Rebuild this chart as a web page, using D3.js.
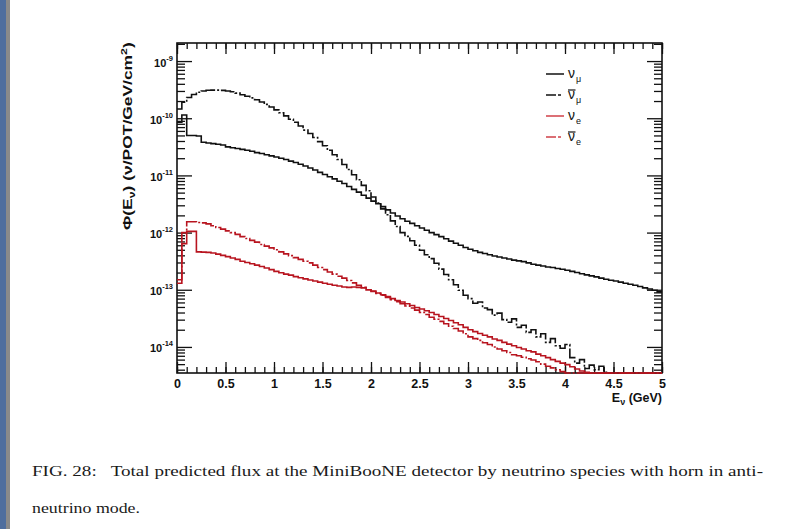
<!DOCTYPE html>
<html>
<head>
<meta charset="utf-8">
<script src="https://cdn.jsdelivr.net/npm/d3@7/dist/d3.min.js"></script>
<style>
  body { margin: 0; background: #fff; }
  svg { display: block; }
</style>
</head>
<body>
<svg id="chart" width="788" height="529"></svg>
<script>
// Flux histograms, 100 bins of 0.05 GeV from 0 to 5 GeV (nu / POT / GeV / cm^2)
const binWidth = 0.05;

const nuMuFlux = [
  8.5e-11, 1.14e-10, 5.0e-11, 5.0e-11, 4.9e-11, 3.8e-11, 3.7e-11, 3.6e-11, 3.5e-11, 3.4e-11,
  3.15e-11, 3.05e-11, 2.95e-11, 2.85e-11, 2.75e-11, 2.65e-11, 2.5e-11, 2.42e-11, 2.3e-11, 2.2e-11,
  2.1e-11, 2.0e-11, 1.9e-11, 1.78e-11, 1.68e-11, 1.57e-11, 1.46e-11, 1.35e-11, 1.24e-11, 1.13e-11,
  1.04e-11, 9.5e-12, 8.7e-12, 7.9e-12, 7.2e-12, 6.4e-12, 5.7e-12, 5.1e-12, 4.5e-12, 4.0e-12,
  3.55e-12, 3.2e-12, 2.85e-12, 2.5e-12, 2.2e-12, 1.95e-12, 1.75e-12, 1.58e-12, 1.45e-12, 1.32e-12,
  1.2e-12, 1.1e-12, 1.0e-12, 9.2e-13, 8.5e-13, 7.8e-13, 7.1e-13, 6.5e-13, 6.0e-13, 5.5e-13,
  5.1e-13, 4.8e-13, 4.5e-13, 4.3e-13, 4.1e-13, 3.9e-13, 3.75e-13, 3.6e-13, 3.45e-13, 3.3e-13,
  3.2e-13, 3.1e-13, 2.95e-13, 2.8e-13, 2.7e-13, 2.6e-13, 2.5e-13, 2.45e-13, 2.35e-13, 2.28e-13,
  2.2e-13, 2.1e-13, 2.0e-13, 1.9e-13, 1.82e-13, 1.75e-13, 1.68e-13, 1.6e-13, 1.53e-13, 1.47e-13,
  1.42e-13, 1.36e-13, 1.3e-13, 1.25e-13, 1.2e-13, 1.14e-13, 1.08e-13, 1.03e-13, 9.8e-14, 9.2e-14
];

const nuMuBarFlux = [
  1.45e-10, 1.9e-10, 2.3e-10, 2.6e-10, 2.85e-10, 3.0e-10, 3.08e-10, 3.1e-10, 3.1e-10, 3.07e-10,
  3.0e-10, 2.9e-10, 2.75e-10, 2.58e-10, 2.42e-10, 2.27e-10, 2.1e-10, 1.92e-10, 1.75e-10, 1.57e-10,
  1.4e-10, 1.25e-10, 1.1e-10, 9.6e-11, 8.5e-11, 7.3e-11, 6.2e-11, 5.4e-11, 4.6e-11, 3.9e-11,
  3.3e-11, 2.75e-11, 2.3e-11, 1.9e-11, 1.55e-11, 1.27e-11, 1.03e-11, 8.4e-12, 6.7e-12, 5.4e-12,
  4.2e-12, 3.3e-12, 2.6e-12, 2.05e-12, 1.6e-12, 1.28e-12, 1.0e-12, 8.6e-13, 7.2e-13, 6.0e-13,
  4.9e-13, 4.1e-13, 3.5e-13, 2.9e-13, 2.3e-13, 1.85e-13, 1.5e-13, 1.22e-13, 9.8e-14, 8.0e-14,
  7.0e-14, 5.8e-14, 6.1e-14, 4.8e-14, 4.5e-14, 3.6e-14, 3.9e-14, 3.0e-14, 2.7e-14, 3.1e-14,
  2.2e-14, 2.4e-14, 1.8e-14, 2.0e-14, 1.5e-14, 1.7e-14, 1.2e-14, 1.4e-14, 1.05e-14, 9.5e-15,
  1.1e-14, 6.5e-15, 5.2e-15, 6.0e-15, 4.2e-15, 4.8e-15, 4.0e-15, 4.6e-15, 3.6e-15, 0,
  0, 0, 0, 0, 0, 0, 0, 0, 0, 0
];

const nuEFlux = [
  1.3e-13, 6.4e-13, 1.05e-12, 1.05e-12, 4.6e-13, 4.55e-13, 4.5e-13, 4.4e-13, 4.2e-13, 4.0e-13,
  3.8e-13, 3.6e-13, 3.4e-13, 3.15e-13, 3.0e-13, 2.85e-13, 2.7e-13, 2.55e-13, 2.4e-13, 2.25e-13,
  2.1e-13, 1.98e-13, 1.88e-13, 1.8e-13, 1.7e-13, 1.62e-13, 1.55e-13, 1.48e-13, 1.42e-13, 1.36e-13,
  1.3e-13, 1.25e-13, 1.2e-13, 1.16e-13, 1.12e-13, 1.1e-13, 1.12e-13, 1.1e-13, 1.08e-13, 1.0e-13,
  9.5e-14, 8.8e-14, 8.2e-14, 7.6e-14, 7.0e-14, 6.5e-14, 6.1e-14, 5.7e-14, 5.3e-14, 4.9e-14,
  4.6e-14, 4.3e-14, 4.0e-14, 3.7e-14, 3.4e-14, 3.15e-14, 2.9e-14, 2.65e-14, 2.45e-14, 2.2e-14,
  2.0e-14, 1.85e-14, 1.72e-14, 1.6e-14, 1.5e-14, 1.38e-14, 1.3e-14, 1.2e-14, 1.12e-14, 1.05e-14,
  9.8e-15, 9.2e-15, 8.6e-15, 8.2e-15, 7.5e-15, 7.0e-15, 6.5e-15, 6.0e-15, 5.6e-15, 5.2e-15,
  4.9e-15, 4.5e-15, 4.1e-15, 3.8e-15, 3.6e-15, 0, 0, 0, 0, 0,
  0, 0, 0, 0, 0, 0, 0, 0, 0, 0
];

const nuEBarFlux = [
  1.5e-13, 1.0e-12, 1.55e-12, 1.55e-12, 1.5e-12, 1.48e-12, 1.42e-12, 1.32e-12, 1.23e-12, 1.15e-12,
  1.07e-12, 1.0e-12, 9.3e-13, 8.5e-13, 7.9e-13, 7.3e-13, 6.8e-13, 6.2e-13, 5.8e-13, 5.4e-13,
  5.0e-13, 4.6e-13, 4.25e-13, 3.95e-13, 3.65e-13, 3.4e-13, 3.15e-13, 2.95e-13, 2.7e-13, 2.45e-13,
  2.25e-13, 2.05e-13, 1.88e-13, 1.72e-13, 1.6e-13, 1.45e-13, 1.32e-13, 1.2e-13, 1.1e-13, 1.0e-13,
  9.3e-14, 8.6e-14, 8.0e-14, 7.3e-14, 6.7e-14, 6.2e-14, 5.7e-14, 5.2e-14, 4.8e-14, 4.4e-14,
  4.0e-14, 3.7e-14, 3.3e-14, 3.05e-14, 2.8e-14, 2.55e-14, 2.3e-14, 2.1e-14, 1.9e-14, 1.7e-14,
  1.5e-14, 1.4e-14, 1.3e-14, 1.18e-14, 1.1e-14, 1.0e-14, 9.2e-15, 8.6e-15, 8.0e-15, 7.3e-15,
  7.0e-15, 6.6e-15, 6.2e-15, 5.9e-15, 5.5e-15, 5.0e-15, 4.6e-15, 4.3e-15, 4.0e-15, 3.7e-15,
  0, 0, 0, 0, 0, 0, 0, 0, 0, 0,
  0, 0, 0, 0, 0, 0, 0, 0, 0, 0
];

const seriesNames = ["ν_μ", "ν̄_μ", "ν_e", "ν̄_e"];
const xMajorTicks = [0, 0.5, 1, 1.5, 2, 2.5, 3, 3.5, 4, 4.5, 5];
const xTickLabels = ["0", "0.5", "1", "1.5", "2", "2.5", "3", "3.5", "4", "4.5", "5"];
const yDecadeExponents = [-9, -10, -11, -12, -13, -14];
const captionLines = [
  "FIG. 28:\u00a0\u00a0 Total predicted flux at the MiniBooNE detector by neutrino species with horn in anti-",
  "neutrino mode."
];

const svg = d3.select("#chart");
const W = 788, H = 529;
const frame = { left: 177, right: 662, top: 43, bottom: 373 };

const x = d3.scaleLinear().domain([0, 5]).range([frame.left, frame.right]);
const y = d3.scaleLog().domain([3.5e-15, 2.07e-9]).range([frame.bottom, frame.top]);

// page background and the viewer's left border strip
svg.append("rect").attr("width", W).attr("height", H).attr("fill", "#ffffff");
svg.append("rect").attr("x", 0).attr("y", 0).attr("width", 6).attr("height", H).attr("fill", "#4f6e9e");
svg.append("rect").attr("x", 6).attr("y", 0).attr("width", 4).attr("height", H).attr("fill", "#8a8a8a");

const axisFont = "'Liberation Sans', Arial, Helvetica, sans-serif";
const ink = "#111";

// ---- x axes (bottom labelled, top mirrored), ticks pointing inward
const xMinor = d3.range(0, 5.0001, 0.1).map(v => +v.toFixed(2));
function xAxisGroup(pos, dir) {
  const gMinor = svg.append("g").attr("transform", `translate(0,${pos})`);
  const gMajor = svg.append("g").attr("transform", `translate(0,${pos})`);
  const mk = dir === "up" ? d3.axisBottom : d3.axisTop;
  gMinor.call(mk(x).tickValues(xMinor).tickSizeInner(-6).tickSizeOuter(0).tickFormat(""));
  gMajor.call(mk(x).tickValues(xMajorTicks).tickSizeInner(-11).tickSizeOuter(0)
    .tickFormat((d, i) => dir === "up" ? xTickLabels[i] : ""));
  [gMinor, gMajor].forEach(g => {
    g.select(".domain").remove();
    g.selectAll(".tick line").attr("stroke", ink).attr("stroke-width", 1.3);
  });
  return gMajor;
}
const gxb = xAxisGroup(frame.bottom, "up");
xAxisGroup(frame.top, "down");
gxb.selectAll(".tick text")
  .attr("y", 15).attr("dy", 0)
  .attr("font-family", axisFont).attr("font-size", 12.5).attr("font-weight", "bold")
  .attr("fill", ink);

// ---- y axes (left labelled, right mirrored), log ticks pointing inward
const decades = yDecadeExponents.map(e => Math.pow(10, e));
const yMinor = [];
for (let e = -15; e <= -9; e++) {
  for (let m = 2; m <= 9; m++) {
    const v = m * Math.pow(10, e);
    if (v >= y.domain()[0] && v <= y.domain()[1]) yMinor.push(v);
  }
}
function yAxisGroup(pos, side) {
  const mk = side === "left" ? d3.axisLeft : d3.axisRight;
  const gMinor = svg.append("g").attr("transform", `translate(${pos},0)`);
  const gMajor = svg.append("g").attr("transform", `translate(${pos},0)`);
  gMinor.call(mk(y).tickValues(yMinor).tickSizeInner(-8).tickSizeOuter(0).tickFormat(""));
  gMajor.call(mk(y).tickValues(decades).tickSizeInner(-15).tickSizeOuter(0).tickFormat(""));
  [gMinor, gMajor].forEach(g => {
    g.select(".domain").remove();
    g.selectAll(".tick line").attr("stroke", ink).attr("stroke-width", 1.3);
    g.selectAll(".tick text").remove();
  });
  return gMajor;
}
const gyl = yAxisGroup(frame.left, "left");
yAxisGroup(frame.right, "right");

// decade labels written as 10^{n}
gyl.selectAll(".tick").each(function (d) {
  const t = d3.select(this).append("text")
    .attr("x", -4).attr("y", 5)
    .attr("text-anchor", "end")
    .attr("font-family", axisFont).attr("font-weight", "bold").attr("fill", ink);
  t.append("tspan").attr("font-size", 11).text("10");
  t.append("tspan").attr("font-size", 7.5).attr("dy", -6).text(String(Math.round(Math.log10(d))));
});

// frame
svg.append("rect")
  .attr("x", frame.left).attr("y", frame.top)
  .attr("width", frame.right - frame.left).attr("height", frame.bottom - frame.top)
  .attr("fill", "none").attr("stroke", ink).attr("stroke-width", 1.6);

// ---- histograms
svg.append("clipPath").attr("id", "plotClip")
  .append("rect")
  .attr("x", frame.left - 1).attr("y", frame.top)
  .attr("width", frame.right - frame.left + 2).attr("height", frame.bottom - frame.top + 1);

function stepPath(vals) {
  const floor = y.domain()[0];
  const yy = v => y(Math.max(v, floor));
  const p = d3.path();
  p.moveTo(x(0), yy(vals[0]));
  vals.forEach((v, i) => {
    const xr = x((i + 1) * binWidth);
    p.lineTo(xr, yy(v));
    if (i < vals.length - 1) p.lineTo(xr, yy(vals[i + 1]));
  });
  return p.toString();
}

const red = "#b8141f";
const dashDot = "15 2 2 2";
const series = [
  { name: seriesNames[2], values: nuEFlux, color: red, dash: null },
  { name: seriesNames[3], values: nuEBarFlux, color: red, dash: dashDot },
  { name: seriesNames[0], values: nuMuFlux, color: ink, dash: null },
  { name: seriesNames[1], values: nuMuBarFlux, color: ink, dash: dashDot }
];
const plotG = svg.append("g").attr("clip-path", "url(#plotClip)");
// black first, red on top
[series[2], series[3], series[0], series[1]].forEach(s => {
  plotG.append("path")
    .attr("d", stepPath(s.values))
    .attr("fill", "none")
    .attr("stroke", s.color)
    .attr("stroke-width", 1.6)
    .attr("stroke-dasharray", s.dash);
});

// ---- legend
const legendRows = [
  { label: seriesNames[0], color: ink, dash: null },
  { label: seriesNames[1], color: ink, dash: "10 2 3 3" },
  { label: seriesNames[2], color: "#d04048", dash: null },
  { label: seriesNames[3], color: "#d04048", dash: "10 2 3 3" }
];
const legendY = [74, 95, 116, 137];
legendRows.forEach((r, i) => {
  const ly = legendY[i];
  svg.append("line")
    .attr("x1", 546).attr("x2", 564).attr("y1", ly).attr("y2", ly)
    .attr("stroke", r.color).attr("stroke-width", 1.5)
    .attr("stroke-dasharray", r.dash);
  const [base, sub] = r.label.split("_");
  const isBar = base.length > 1;
  const t = svg.append("text")
    .attr("x", 568).attr("y", ly + 4)
    .attr("font-family", axisFont).attr("fill", ink);
  t.append("tspan").attr("font-size", 14).text("ν");
  t.append("tspan").attr("font-size", 9).attr("dy", 4).attr("dx", 1).text(sub);
  if (isBar) {
    svg.append("line")
      .attr("x1", 568).attr("x2", 575.5)
      .attr("y1", ly - 5).attr("y2", ly - 5)
      .attr("stroke", ink).attr("stroke-width", 1.2);
  }
});

// ---- axis titles
const xt = svg.append("text")
  .attr("x", frame.right).attr("y", 402)
  .attr("text-anchor", "end")
  .attr("font-family", axisFont).attr("font-size", 12.5).attr("font-weight", "bold")
  .attr("fill", ink);
xt.append("tspan").text("E");
xt.append("tspan").attr("font-size", 9).attr("dy", 3).text("ν");
xt.append("tspan").attr("dy", -3).text(" (GeV)");

const ytG = svg.append("g");
const yt = ytG.append("text")
  .attr("x", 0).attr("y", 0)
  .attr("font-family", axisFont).attr("font-size", 12).attr("font-weight", "bold")
  .attr("fill", ink);
yt.append("tspan").text("Φ(E");
yt.append("tspan").attr("font-size", 8.5).attr("dy", 3).text("ν");
yt.append("tspan").attr("dy", -3).text(") (ν/POT/GeV/cm");
yt.append("tspan").attr("font-size", 8.5).attr("dy", -5).text("2");
yt.append("tspan").attr("dy", 5).text(")");
const ytLen = yt.node().getComputedTextLength();
const ytStart = 230, ytEnd = 42;
ytG.attr("transform", `translate(132,${ytStart}) rotate(-90) scale(${(ytStart - ytEnd) / ytLen},1)`);

// ---- caption
const capFont = "'Liberation Serif', 'DejaVu Serif', serif";
svg.append("text")
  .attr("x", 32).attr("y", 476)
  .attr("font-family", capFont).attr("font-size", 14.5).attr("fill", "#1a1a1a")
  .attr("textLength", 731).attr("lengthAdjust", "spacingAndGlyphs")
  .text(captionLines[0]);
svg.append("text")
  .attr("x", 32).attr("y", 513)
  .attr("font-family", capFont).attr("font-size", 14.5).attr("fill", "#1a1a1a")
  .attr("textLength", 108).attr("lengthAdjust", "spacingAndGlyphs")
  .text(captionLines[1]);
</script>
</body>
</html>
